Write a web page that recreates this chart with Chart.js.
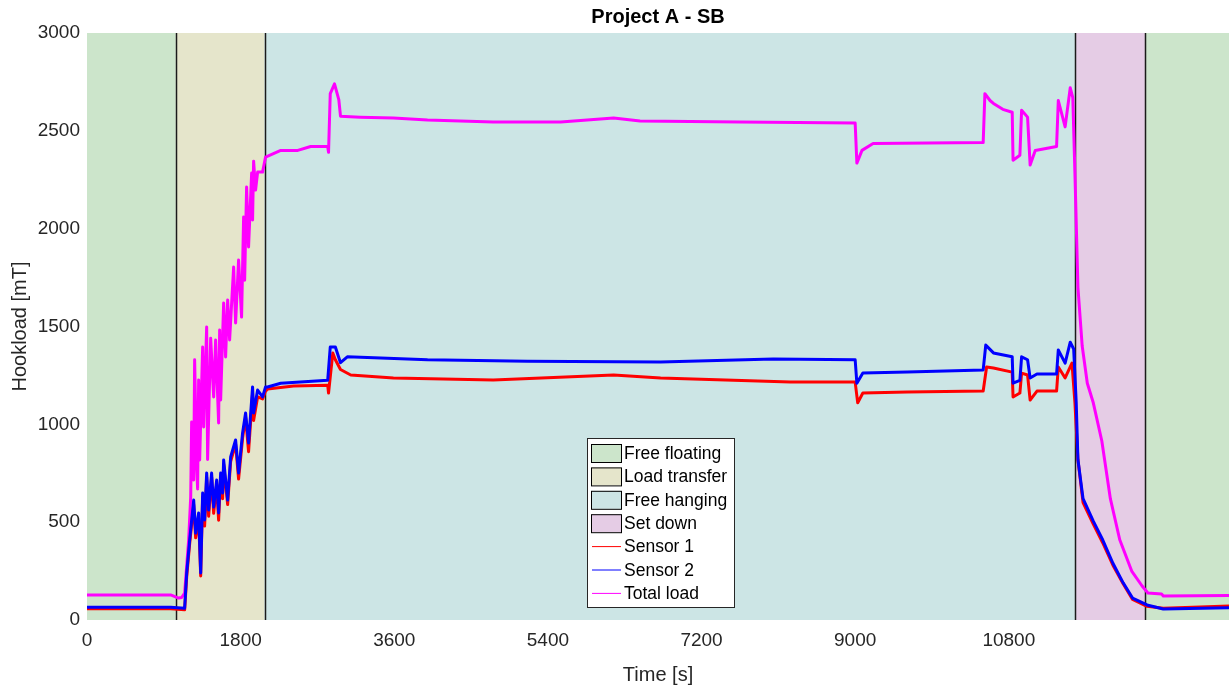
<!DOCTYPE html>
<html>
<head>
<meta charset="utf-8">
<title>Project A - SB</title>
<script src="https://cdn.jsdelivr.net/npm/chart.js@4.4.1/dist/chart.umd.min.js"></script>
<style>
  html, body { margin: 0; padding: 0; background: #fff; }
  #wrap { width: 1229px; height: 688px; }
</style>
</head>
<body>
<div id="wrap"><canvas id="hookload" width="1229" height="688"></canvas></div>
<script>
// phases of the lift (seconds)
const phaseNames = ['Free floating', 'Load transfer', 'Free hanging', 'Set down', 'Free floating'];
const phaseStart = [0, 1040, 2080, 11575, 12395];
const phaseEnd = [1040, 2080, 11575, 12395, 13380];

const xTicks = [0, 1800, 3600, 5400, 7200, 9000, 10800];
const yTicks = [0, 500, 1000, 1500, 2000, 2500, 3000];

// Sensor 1 (red)
const sensor1Time = [0, 980, 1144, 1168, 1203, 1250, 1273, 1308, 1332, 1355, 1378, 1402, 1425, 1460, 1484, 1519, 1542, 1566, 1589, 1601, 1648, 1683, 1741, 1776, 1823, 1858, 1893, 1940, 1952, 1999, 2057, 2092, 2116, 2420, 2820, 2830, 2880, 2910, 2970, 3090, 3590, 4760, 6170, 6720, 8240, 9000, 9030, 9090, 9610, 10500, 10540, 10620, 10840, 10850, 10930, 10950, 11020, 11050, 11130, 11360, 11380, 11460, 11540, 11575, 11610, 11670, 11790, 11900, 12020, 12140, 12250, 12420, 12610, 13380];
const sensor1Load = [58, 58, 52, 220, 390, 590, 420, 520, 225, 630, 480, 730, 530, 730, 545, 695, 510, 730, 620, 795, 590, 810, 900, 720, 930, 1035, 860, 1160, 1020, 1140, 1130, 1170, 1180, 1196, 1200, 1160, 1365, 1330, 1280, 1252, 1237, 1226, 1252, 1237, 1216, 1216, 1110, 1160, 1165, 1170, 1293, 1288, 1267, 1140, 1160, 1262, 1252, 1124, 1170, 1170, 1293, 1237, 1313, 1110, 820, 600, 490, 395, 280, 185, 105, 70, 60, 72];

// Sensor 2 (blue)
const sensor2Time = [0, 980, 1144, 1168, 1203, 1250, 1273, 1308, 1332, 1355, 1378, 1402, 1425, 1460, 1484, 1519, 1542, 1566, 1589, 1601, 1648, 1683, 1741, 1776, 1823, 1858, 1893, 1940, 1952, 1999, 2057, 2092, 2116, 2270, 2820, 2850, 2910, 2970, 3050, 3990, 5160, 6720, 8040, 9000, 9020, 9090, 9610, 10500, 10530, 10620, 10840, 10850, 10930, 10950, 11020, 11050, 11130, 11360, 11380, 11460, 11520, 11560, 11590, 11610, 11670, 11790, 11900, 12020, 12140, 12250, 12420, 12610, 13380];
const sensor2Load = [65, 65, 60, 240, 409, 613, 444, 547, 240, 649, 511, 751, 562, 751, 577, 715, 547, 751, 649, 818, 613, 833, 920, 751, 956, 1058, 904, 1191, 1058, 1175, 1140, 1191, 1191, 1210, 1225, 1395, 1395, 1315, 1345, 1330, 1323, 1318, 1334, 1330, 1210, 1262, 1267, 1278, 1405, 1365, 1345, 1210, 1225, 1345, 1330, 1237, 1257, 1257, 1380, 1313, 1420, 1385, 1110, 820, 620, 505, 410, 290, 190, 112, 77, 56, 62];

// Total load (magenta)
const totalTime = [0, 980, 1074, 1109, 1144, 1191, 1215, 1226, 1250, 1261, 1285, 1296, 1308, 1320, 1355, 1367, 1402, 1413, 1449, 1484, 1507, 1542, 1554, 1566, 1601, 1624, 1648, 1671, 1718, 1741, 1776, 1811, 1835, 1847, 1870, 1893, 1929, 1940, 1952, 1975, 1999, 2057, 2092, 2270, 2470, 2620, 2820, 2830, 2850, 2900, 2950, 2970, 3200, 3590, 3990, 4760, 5550, 6170, 6480, 7650, 9000, 9020, 9080, 9210, 10500, 10520, 10580, 10620, 10730, 10840, 10850, 10930, 10950, 11020, 11050, 11110, 11360, 11380, 11460, 11520, 11550, 11575, 11610, 11660, 11720, 11790, 11890, 11990, 12100, 12240, 12360, 12430, 12590, 12610, 13380];
const totalLoad = [128, 128, 112, 115, 138, 409, 629, 1012, 715, 1330, 782, 670, 1226, 818, 1395, 986, 1497, 820, 1440, 1140, 1431, 1007, 1482, 1124, 1620, 1344, 1635, 1431, 1804, 1518, 1840, 1548, 2059, 1737, 2213, 1906, 2284, 2044, 2345, 2197, 2289, 2289, 2366, 2400, 2400, 2420, 2420, 2390, 2690, 2740, 2660, 2575, 2570, 2565, 2555, 2545, 2545, 2565, 2550, 2545, 2540, 2335, 2400, 2435, 2440, 2690, 2655, 2640, 2610, 2595, 2350, 2375, 2605, 2570, 2325, 2400, 2420, 2655, 2520, 2720, 2670, 2280, 1700, 1400, 1210, 1110, 915, 620, 410, 250, 175, 138, 133, 123, 125];

const FONT = '"Liberation Sans", Arial, Helvetica, sans-serif';
const TEXT = '#262626';
const phaseColors = ['#cce5cb', '#e5e5cb', '#cce5e5', '#e5cce5', '#cce5cb'];

const toPoints = (t, v) => t.map((x, i) => ({ x: x, y: v[i] }));

// shaded phases and the black borders between them
const phasePlugin = {
    id: 'phases',
    beforeDatasetsDraw(chart) {
        const { ctx, chartArea, scales } = chart;
        const xs = scales.x;
        ctx.save();
        for (let i = 0; i < phaseNames.length; i++) {
            const x0 = Math.max(xs.getPixelForValue(phaseStart[i]), chartArea.left);
            const x1 = Math.min(xs.getPixelForValue(phaseEnd[i]), chartArea.right);
            ctx.fillStyle = phaseColors[i];
            ctx.fillRect(x0, chartArea.top, x1 - x0, chartArea.bottom - chartArea.top);
        }
        ctx.strokeStyle = '#1a1a1a';
        ctx.lineWidth = 1.5;
        for (let i = 1; i < phaseStart.length; i++) {
            const x = Math.round(xs.getPixelForValue(phaseStart[i])) + 0.5;
            ctx.beginPath();
            ctx.moveTo(x, chartArea.top);
            ctx.lineTo(x, chartArea.bottom);
            ctx.stroke();
        }
        ctx.restore();
    }
};

// MATLAB-style boxed legend in the lower middle
const legendPlugin = {
    id: 'boxLegend',
    afterDraw(chart) {
        const ctx = chart.ctx;
        const left = 587, top = 438, w = 147, h = 169, row = 23.4;
        ctx.save();
        ctx.fillStyle = '#fff';
        ctx.fillRect(left, top, w, h);
        ctx.strokeStyle = '#262626';
        ctx.lineWidth = 1;
        ctx.strokeRect(left + 0.5, top + 0.5, w, h);
        ctx.font = '17.5px ' + FONT;
        ctx.textBaseline = 'middle';
        ctx.textAlign = 'left';
        const items = phaseNames.slice(0, 4).map((n, i) => ({ label: n, patch: phaseColors[i] }))
            .concat(chart.data.datasets.map(d => ({ label: d.label, line: d.borderColor })));
        items.forEach((it, i) => {
            const cy = top + 15 + i * row;
            if (it.patch) {
                ctx.fillStyle = it.patch;
                ctx.fillRect(591, cy - 9, 30, 18);
                ctx.strokeStyle = '#000';
                ctx.strokeRect(591.5, cy - 8.5, 30, 18);
            } else {
                ctx.strokeStyle = it.line;
                ctx.beginPath();
                ctx.moveTo(592, cy);
                ctx.lineTo(621, cy);
                ctx.stroke();
            }
            ctx.fillStyle = '#000';
            ctx.fillText(it.label, 624, cy + 1);
        });
        ctx.restore();
    }
};

const ctx = document.getElementById('hookload').getContext('2d');
const chart = new Chart(ctx, {
    type: 'line',
    data: {
        datasets: [
            { label: 'Sensor 1', data: toPoints(sensor1Time, sensor1Load), borderColor: '#ff0000', order: 1 },
            { label: 'Sensor 2', data: toPoints(sensor2Time, sensor2Load), borderColor: '#0000ff', order: 0 },
            { label: 'Total load', data: toPoints(totalTime, totalLoad), borderColor: '#ff00ff', order: 2 }
        ]
    },
    options: {
        responsive: false,
        animation: false,
        layout: { padding: 0 },
        elements: {
            point: { radius: 0 },
            line: { borderWidth: 3, tension: 0, borderJoinStyle: 'round' }
        },
        plugins: {
            legend: { display: false },
            tooltip: { enabled: false },
            title: {
                display: true,
                fullSize: false,
                text: 'Project A - SB',
                color: '#000',
                font: { family: FONT, size: 20, weight: 'bold' },
                padding: { top: 5, bottom: 4 }
            }
        },
        scales: {
            x: {
                type: 'linear',
                min: 0,
                max: 13380,
                grid: { display: false, drawTicks: false },
                border: { display: false },
                afterBuildTicks: (scale) => { scale.ticks = xTicks.map(v => ({ value: v })); },
                afterFit: (scale) => { scale.height = 68; },
                ticks: { color: TEXT, font: { family: FONT, size: 19 }, padding: 9, maxRotation: 0, autoSkip: false, callback: (v) => String(v) },
                title: { display: true, text: 'Time [s]', color: TEXT, font: { family: FONT, size: 20 }, padding: { top: 0, bottom: 1 } }
            },
            y: {
                min: 0,
                max: 3000,
                grid: { display: false, drawTicks: false },
                border: { display: false },
                afterBuildTicks: (scale) => { scale.ticks = yTicks.map(v => ({ value: v })); },
                afterFit: (scale) => { scale.width = 87; },
                ticks: { color: TEXT, font: { family: FONT, size: 19 }, padding: 7, callback: (v) => String(v) },
                title: { display: true, text: 'Hookload [mT]', color: TEXT, font: { family: FONT, size: 20 }, padding: { top: 8, bottom: 0 } }
            }
        }
    },
    plugins: [phasePlugin, legendPlugin]
});
</script>
</body>
</html>
